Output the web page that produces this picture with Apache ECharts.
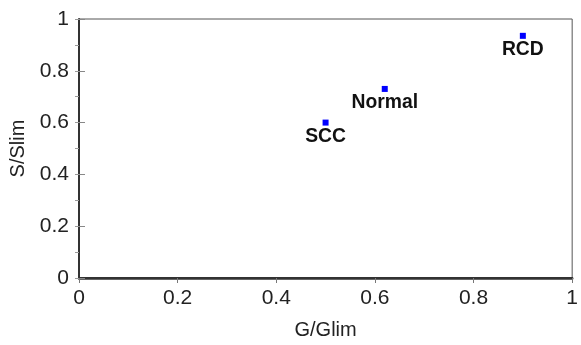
<!DOCTYPE html>
<html>
<head>
<meta charset="utf-8">
<script src="https://cdn.jsdelivr.net/npm/echarts@6/dist/echarts.min.js"></script>
<style>
  html, body { margin: 0; padding: 0; background: #fff; }
  #chart { width: 581px; height: 345px; }
</style>
</head>
<body>
<div id="chart"></div>
<script>
// groups and their normalised G / S values
const groups = ['SCC', 'Normal', 'RCD']
const gValues = [0.5, 0.62, 0.9]
const sValues = [0.6, 0.73, 0.935]

const axisFont = 'Liberation Sans, Arial, sans-serif'
const lineColor = '#333'

const chart = echarts.init(document.getElementById('chart'), null, { renderer: 'canvas' })

const points = groups.map((name, i) => [gValues[i], sValues[i]])

// square marker plus a slightly condensed bold label under it
function renderPoint(params, api) {
  const p = api.coord([api.value(0), api.value(1)])
  return {
    type: 'group',
    children: [{
      type: 'rect',
      shape: { x: p[0] - 3, y: p[1] - 3, width: 6, height: 6 },
      style: { fill: '#0000ff' }
    }, {
      type: 'text',
      x: p[0],
      y: p[1] + 3,
      scaleX: 0.92,
      style: {
        text: groups[params.dataIndex],
        font: 'bold 21px "Liberation Sans", Arial, sans-serif',
        fill: '#111',
        align: 'center',
        verticalAlign: 'top'
      }
    }]
  }
}

const option = {
  animation: false,
  grid: {
    left: 78,
    right: 5,
    top: 19,
    bottom: 65,
    show: true,
    borderColor: '#555',
    borderWidth: 1
  },
  xAxis: [{
    type: 'value',
    min: 0,
    max: 1,
    interval: 0.2,
    name: 'G/Glim',
    nameLocation: 'middle',
    nameGap: 42,
    nameTextStyle: { fontFamily: axisFont, fontSize: 20, color: '#222' },
    axisLine: { show: true, lineStyle: { color: lineColor, width: 2 } },
    axisTick: { show: true, inside: false, length: 5, lineStyle: { color: '#777' } },
    axisLabel: { fontFamily: axisFont, fontSize: 21, color: '#222', margin: 10 },
    splitLine: { show: false }
  }, {
    // thick top frame line
    type: 'value',
    position: 'top',
    min: 0,
    max: 1,
    axisLine: { show: true, lineStyle: { color: lineColor, width: 2.5 } },
    axisTick: { show: false },
    axisLabel: { show: false },
    splitLine: { show: false }
  }],
  yAxis: [{
    type: 'value',
    min: 0,
    max: 1,
    interval: 0.2,
    name: 'S/Slim',
    nameLocation: 'middle',
    nameGap: 51,
    nameTextStyle: { fontFamily: axisFont, fontSize: 20, color: '#222' },
    axisLine: { show: true, lineStyle: { color: lineColor, width: 2 } },
    axisTick: { show: true, inside: true, length: 6, lineStyle: { color: '#888' } },
    axisLabel: { fontFamily: axisFont, fontSize: 21, color: '#222', margin: 10 },
    splitLine: { show: false }
  }, {
    // small outward ticks every 0.1
    type: 'value',
    position: 'left',
    min: 0,
    max: 1,
    interval: 0.1,
    axisLine: { show: false },
    axisTick: { show: true, inside: false, length: 4, lineStyle: { color: '#999' } },
    axisLabel: { show: false },
    splitLine: { show: false }
  }],
  series: [{
    type: 'custom',
    xAxisIndex: 0,
    yAxisIndex: 0,
    renderItem: renderPoint,
    data: points
  }]
}

chart.setOption(option)
</script>
</body>
</html>
